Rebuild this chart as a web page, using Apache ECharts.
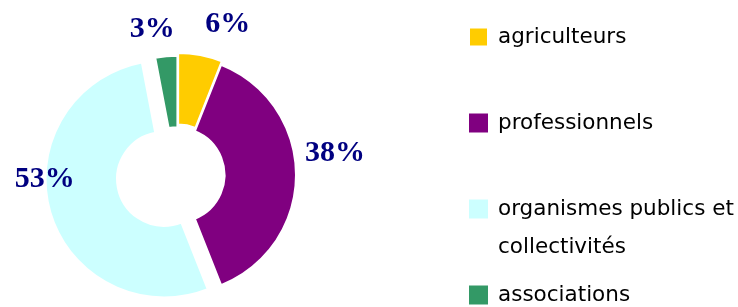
<!DOCTYPE html>
<html>
<head>
<meta charset="utf-8">
<script src="https://cdn.jsdelivr.net/npm/echarts@6/dist/echarts.min.js"></script>
<style>html,body{margin:0;padding:0;background:#fff}#c{width:738px;height:307px}</style>
</head>
<body>
<div id="c"></div>
<script>
const categories = ['agriculteurs', 'professionnels', 'organismes publics et\ncollectivités', 'associations'];
const values = [6, 38, 53, 3];
const labels = ['6%', '38%', '53%', '3%'];
const colors = ['#FFCC00', '#800080', '#CCFFFF', '#339966'];
// explosion distance of each slice (px)
const explode = [3.5, 0, 14, 0.8];
// label nudges (dx, dy) relative to library default placement
const labelNudge = [[0, -31], [4, -21.5], [29.5, -33], [13.5, -27]];

const chart = echarts.init(document.getElementById('c'), null, {renderer: 'canvas'});
const L = 38;
const legendData = categories.map((c, i) => ({
  name: c,
  itemStyle: {color: colors[i]},
  textStyle: c.indexOf('\n') >= 0 ? {padding: [0, 0, 0, 5]} : {padding: [L, 0, L, 5]}
}));

const series = categories.map((own, k) => ({
  type: 'pie',
  center: [177.5, 175],
  radius: [47, 118.5],
  startAngle: 90,
  clockwise: true,
  avoidLabelOverlap: false,
  selectedMode: 'single',
  selectedOffset: explode[k],
  emphasis: {disabled: true},
  label: {
    position: 'outside',
    color: '#000080',
    fontFamily: 'Liberation Serif',
    fontWeight: 'bold',
    fontSize: 30,
    formatter: p => labels[p.dataIndex]
  },
  labelLine: {show: false, length: 0, length2: 0},
  labelLayout: p => ({dx: labelNudge[p.dataIndex][0], dy: labelNudge[p.dataIndex][1]}),
  data: categories.map((c, i) => ({
    name: c,
    value: values[i],
    selected: i === k && explode[k] > 0,
    label: {show: i === k},
    itemStyle: i === k
      ? {color: colors[i], borderColor: '#fff', borderWidth: 2}
      : {color: 'rgba(0,0,0,0)', borderWidth: 0}
  }))
}));

chart.setOption({
  animation: false,
  legend: {
    orient: 'vertical',
    left: 468,
    top: -20,
    height: 420,
    padding: 0,
    itemGap: 86 - 3 * L,
    itemWidth: 19,
    itemHeight: 19,
    icon: 'rect',
    selectedMode: false,
    data: legendData,
    formatter: name => name.indexOf('\n') >= 0 ? '\n' + name : name,
    textStyle: {fontFamily: 'DejaVu Sans', fontSize: 21.5, color: '#000', lineHeight: L}
  },
  series: series
});
</script>
</body>
</html>
